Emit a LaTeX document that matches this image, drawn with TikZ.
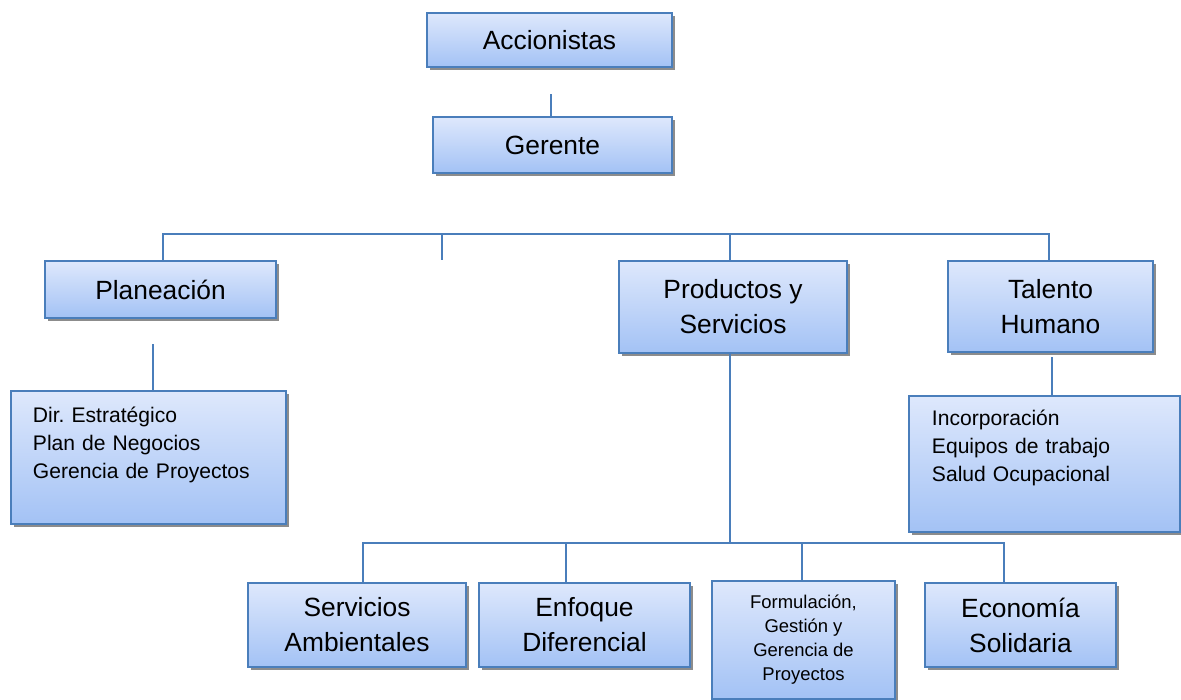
\documentclass[tikz,border=0pt]{standalone}
\usepackage{fontspec}
\setmainfont{Liberation Sans}
\usepackage{xcolor}
\usepackage{tikz}
\usetikzlibrary{shadows}
\frenchspacing

\definecolor{boxtop}{HTML}{DEE8FC}
\definecolor{boxbot}{HTML}{A3C2F5}
\definecolor{boxline}{HTML}{4A7EBB}

\tikzset{
  orgbox/.style={draw=boxline, line width=1.1pt, top color=boxtop, bottom color=boxbot,
    drop shadow={shadow xshift=0.06cm, shadow yshift=-0.06cm, fill=black!45, opacity=1},
    align=center, inner sep=0pt, font=\fontsize{15}{19.9}\selectfont},
  listbox/.style={orgbox, align=left, anchor=north west, inner ysep=0pt,
    font=\fontsize{12}{15.9}\selectfont},
  orgline/.style={draw=boxline, line width=1.1pt},
}

\begin{document}
\begin{tikzpicture}[x=0.02cm, y=-0.02cm]
\useasboundingbox (0,0) rectangle (1181,700);
% Top levels
\node[orgbox, minimum width=4.9cm, minimum height=1.08cm] (acc) at (549.5,40) {Accionistas};
\node[orgbox, minimum width=4.78cm, minimum height=1.12cm] (ger) at (552.5,145) {Gerente};
% Areas
\node[orgbox, minimum width=4.62cm, minimum height=1.14cm] (plan) at (160.5,289.5) {Planeación};
\node[orgbox, minimum width=4.56cm, minimum height=1.84cm] (prod) at (733,307) {Productos y\\Servicios};
\node[orgbox, minimum width=4.1cm, minimum height=1.82cm] (tal) at (1050.5,306.5) {Talento\\Humano};
% Detail lists
\node[listbox, inner xsep=0.44cm, text width=4.62cm, text height=0.64cm, text depth=2.02cm] (dir) at (10,390)
  {Dir. Estratégico\\Plan de Negocios\\Gerencia de Proyectos};
\node[listbox, inner xsep=0.46cm, text width=4.5cm, text height=0.6cm, text depth=2.12cm] (talsub) at (908,395)
  {Incorporación\\Equipos de trabajo\\Salud Ocupacional};
% Lower row
\node[orgbox, minimum width=4.36cm, minimum height=1.68cm] (serv) at (357,625) {Servicios\\Ambientales};
\node[orgbox, minimum width=4.22cm, minimum height=1.68cm] (enf) at (584.5,625) {Enfoque\\Diferencial};
\node[orgbox, minimum width=3.66cm, minimum height=2.36cm, font=\fontsize{10.5}{13.7}\selectfont] (form) at (803.5,640)
  {Formulación,\\Gestión y\\Gerencia de\\Proyectos};
\node[orgbox, minimum width=3.82cm, minimum height=1.68cm] (econ) at (1020.5,625) {Economía\\Solidaria};

% Connectors
\coordinate (accstub) at (551,94);
\draw[orgline] (accstub) -- (accstub |- ger.north);
\coordinate (busl) at (163,234);
\coordinate (busr) at (1049,234);
\coordinate (busp) at (730,234);
\coordinate (busx) at (442,234);
\coordinate (stubx) at (442,260);
\draw[orgline] (busl |- plan.north) -- (busl) -- (busr) -- (busr |- tal.north);
\draw[orgline] (busp) -- (busp |- prod.north);
\draw[orgline] (busx) -- (stubx);
\coordinate (planstub) at (153,344);
\draw[orgline] (planstub) -- (planstub |- dir.north);
\coordinate (talstub) at (1052,357);
\draw[orgline] (talstub) -- (talstub |- talsub.north);
% Lower bus
\coordinate (prodbus) at (730,543);
\coordinate (lowl) at (363,543);
\coordinate (lowe) at (566,543);
\coordinate (lowf) at (802,543);
\coordinate (lowr) at (1004,543);
\draw[orgline] (prodbus |- prod.south) -- (prodbus);
\draw[orgline] (lowl |- serv.north) -- (lowl) -- (lowr) -- (lowr |- econ.north);
\draw[orgline] (lowe) -- (lowe |- enf.north);
\draw[orgline] (lowf) -- (lowf |- form.north);
\end{tikzpicture}
\end{document}
